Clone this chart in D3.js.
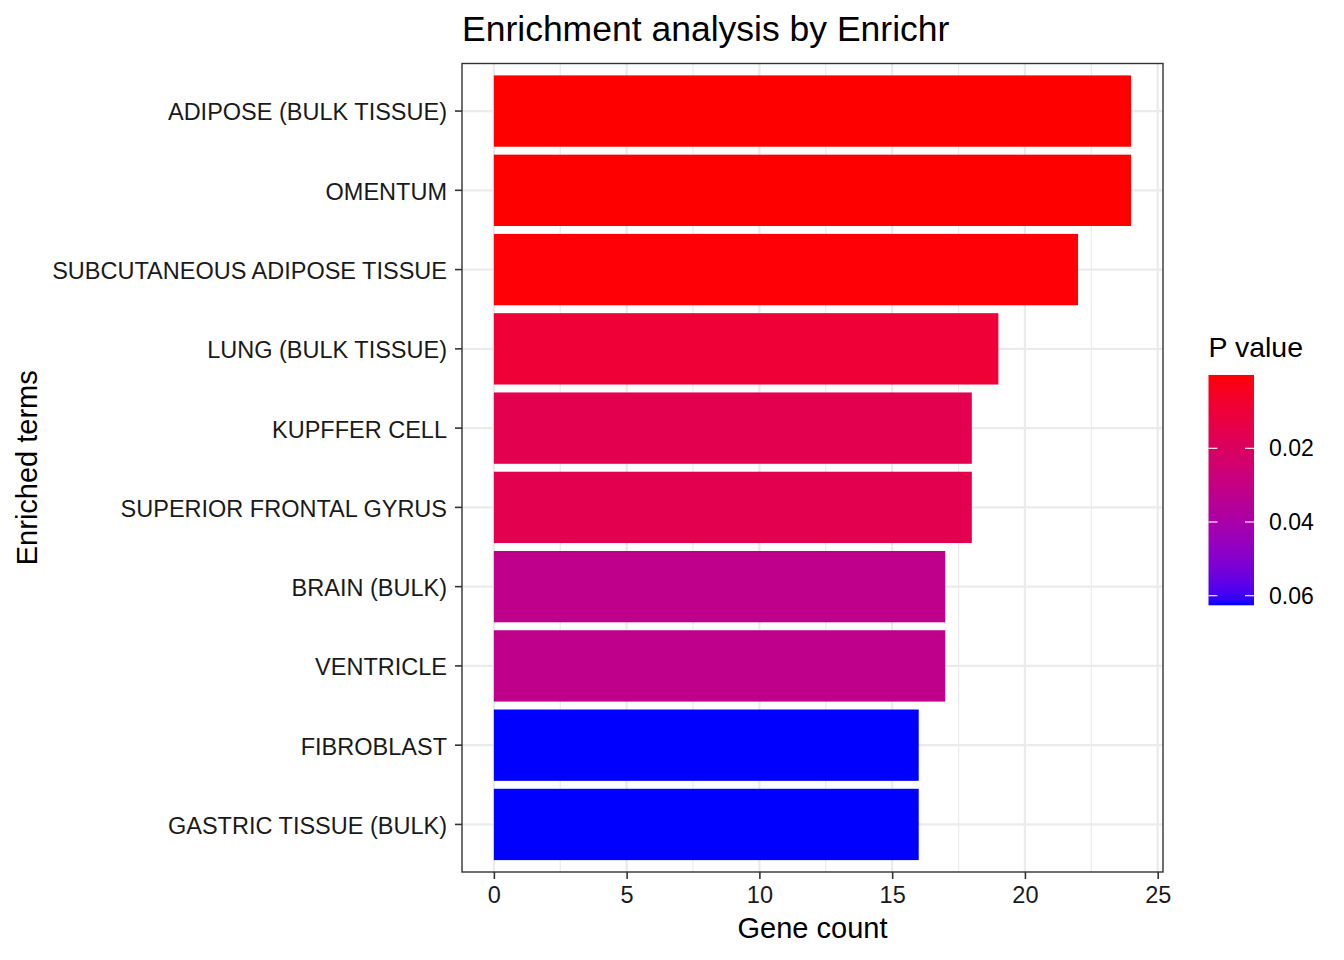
<!DOCTYPE html>
<html>
<head>
<meta charset="utf-8">
<script src="https://cdn.jsdelivr.net/npm/d3@7"></script>
<style>
  html, body { margin: 0; padding: 0; background: #fff; }
  svg { display: block; font-family: "Liberation Sans", Arial, Helvetica, sans-serif; }
</style>
</head>
<body>
<svg id="chart" width="1344" height="960"></svg>
<script>
// ---- data (top to bottom) ----
const terms = [
  "ADIPOSE (BULK TISSUE)",
  "OMENTUM",
  "SUBCUTANEOUS ADIPOSE TISSUE",
  "LUNG (BULK TISSUE)",
  "KUPFFER CELL",
  "SUPERIOR FRONTAL GYRUS",
  "BRAIN (BULK)",
  "VENTRICLE",
  "FIBROBLAST",
  "GASTRIC TISSUE (BULK)"
];
const geneCounts = [24, 24, 22, 19, 18, 18, 17, 17, 16, 16];
const pValues = [0.0001, 0.0001, 0.0007, 0.0092, 0.0155, 0.0155, 0.032, 0.032, 0.0626, 0.0626];
const xTicks = [0, 5, 10, 15, 20, 25];
const xMinorTicks = [2.5, 7.5, 12.5, 17.5, 22.5];
const legendTicks = [0.02, 0.04, 0.06];
const titleText = "Enrichment analysis by Enrichr";
const xTitle = "Gene count";
const yTitle = "Enriched terms";
const legendTitle = "P value";

// ---- layout ----
const svg = d3.select("#chart");
const panel = { left: 462, right: 1163, top: 63.5, bottom: 872 };

const xMax = d3.max(geneCounts);
const x = d3.scaleLinear()
  .domain([-0.05 * xMax, 1.05 * xMax])
  .range([panel.left, panel.right]);

const y = d3.scaleBand()
  .domain(terms)
  .range([panel.top, panel.bottom])
  .paddingInner(0.1)
  .paddingOuter(0.15);

const pExtent = d3.extent(pValues);
const color = d3.scaleLinear()
  .domain(pExtent)
  .range(["#ff0000", "#0000ff"])
  .interpolate(d3.interpolateLab);

// panel background
svg.append("rect")
  .attr("x", panel.left).attr("y", panel.top)
  .attr("width", panel.right - panel.left)
  .attr("height", panel.bottom - panel.top)
  .attr("fill", "#ffffff");

// grid
const grid = svg.append("g");
grid.selectAll("line.minor")
  .data(xMinorTicks).join("line")
  .attr("x1", d => x(d)).attr("x2", d => x(d))
  .attr("y1", panel.top).attr("y2", panel.bottom)
  .attr("stroke", "#ebebeb").attr("stroke-width", 1.2);
grid.selectAll("line.majorx")
  .data(xTicks).join("line")
  .attr("x1", d => x(d)).attr("x2", d => x(d))
  .attr("y1", panel.top).attr("y2", panel.bottom)
  .attr("stroke", "#ebebeb").attr("stroke-width", 2.3);
grid.selectAll("line.majory")
  .data(terms).join("line")
  .attr("x1", panel.left).attr("x2", panel.right)
  .attr("y1", d => y(d) + y.bandwidth() / 2)
  .attr("y2", d => y(d) + y.bandwidth() / 2)
  .attr("stroke", "#ebebeb").attr("stroke-width", 2.3);

// bars
svg.append("g").selectAll("rect")
  .data(terms.map((t, i) => ({ term: t, count: geneCounts[i], p: pValues[i] })))
  .join("rect")
  .attr("x", x(0))
  .attr("y", d => y(d.term))
  .attr("width", d => x(d.count) - x(0))
  .attr("height", y.bandwidth())
  .attr("fill", d => color(d.p));

// panel border
svg.append("rect")
  .attr("x", panel.left).attr("y", panel.top)
  .attr("width", panel.right - panel.left)
  .attr("height", panel.bottom - panel.top)
  .attr("fill", "none")
  .attr("stroke", "#333333").attr("stroke-width", 1.4);

// axes
const xAxis = svg.append("g")
  .attr("transform", `translate(0,${panel.bottom})`)
  .call(d3.axisBottom(x).tickValues(xTicks).tickFormat(d3.format("d")).tickSize(7).tickPadding(7.5));
const yAxis = svg.append("g")
  .attr("transform", `translate(${panel.left},0)`)
  .call(d3.axisLeft(y).tickSize(7).tickPadding(8));
[xAxis, yAxis].forEach(a => {
  a.select(".domain").remove();
  a.selectAll(".tick line").attr("stroke", "#333333").attr("stroke-width", 1.6);
  a.selectAll(".tick text")
    .attr("fill", "#1a1a1a")
    .style("font-size", "23.5px")
    .style("font-family", "'Liberation Sans', Arial, sans-serif");
});
yAxis.selectAll(".tick text").attr("dy", "0.4em");

// titles
svg.append("text")
  .attr("x", panel.left).attr("y", 41)
  .attr("fill", "#000")
  .style("font-size", "35.5px")
  .text(titleText);

svg.append("text")
  .attr("x", (panel.left + panel.right) / 2).attr("y", 938)
  .attr("text-anchor", "middle")
  .attr("fill", "#000")
  .style("font-size", "29px")
  .text(xTitle);

svg.append("text")
  .attr("transform", `translate(37,${(panel.top + panel.bottom) / 2}) rotate(-90)`)
  .attr("text-anchor", "middle")
  .attr("fill", "#000")
  .style("font-size", "29px")
  .text(yTitle);

// legend
const leg = { x: 1208.5, w: 45.5 };
const legY = d3.scaleLinear()
  .domain([legendTicks[0], legendTicks[legendTicks.length - 1]])
  .range([448.3, 595.7]);
const barTop = legY(pExtent[0]);
const barBottom = legY(pExtent[1]);

svg.append("text")
  .attr("x", leg.x).attr("y", 356.5)
  .attr("fill", "#000")
  .style("font-size", "28.5px")
  .text(legendTitle);

const defs = svg.append("defs");
const grad = defs.append("linearGradient")
  .attr("id", "pgrad")
  .attr("x1", 0).attr("y1", 0).attr("x2", 0).attr("y2", 1);
const nStops = 40;
d3.range(nStops + 1).forEach(i => {
  const p = pExtent[0] + (pExtent[1] - pExtent[0]) * i / nStops;
  grad.append("stop")
    .attr("offset", (i / nStops * 100) + "%")
    .attr("stop-color", color(p));
});

svg.append("rect")
  .attr("x", leg.x).attr("y", barTop)
  .attr("width", leg.w).attr("height", barBottom - barTop)
  .attr("fill", "url(#pgrad)");

const lt = svg.append("g");
lt.selectAll("line.l")
  .data(legendTicks).join("line")
  .attr("x1", leg.x).attr("x2", leg.x + 9)
  .attr("y1", d => legY(d)).attr("y2", d => legY(d))
  .attr("stroke", "#ffffff").attr("stroke-width", 1.1);
lt.selectAll("line.r")
  .data(legendTicks).join("line")
  .attr("x1", leg.x + leg.w - 9).attr("x2", leg.x + leg.w)
  .attr("y1", d => legY(d)).attr("y2", d => legY(d))
  .attr("stroke", "#ffffff").attr("stroke-width", 1.1);
lt.selectAll("text")
  .data(legendTicks).join("text")
  .attr("x", 1269).attr("y", d => legY(d))
  .attr("dy", "0.35em")
  .attr("fill", "#000")
  .style("font-size", "23px")
  .text(d => d3.format(".2f")(d));
</script>
</body>
</html>
